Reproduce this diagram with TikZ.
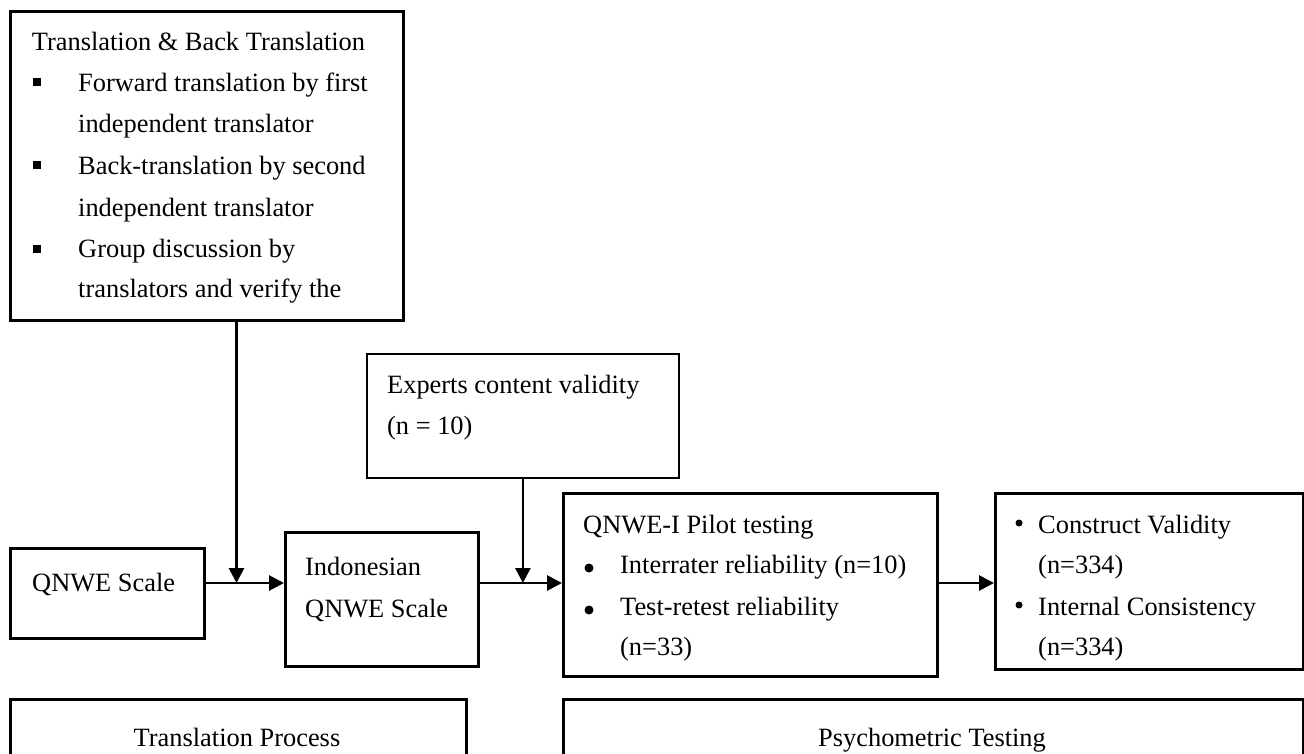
\documentclass[tikz,border=0pt]{standalone}
\usepackage{fontspec}
\setmainfont{Liberation Serif}
\usetikzlibrary{arrows.meta}
\begin{document}
\begin{tikzpicture}[x=1pt,y=-1pt,
  box/.style={draw, line width=2.8pt, inner sep=0pt, anchor=north west},
  txt/.style={anchor=base west, inner sep=0pt, font=\fontsize{26.4}{32}\selectfont},
  ctxt/.style={anchor=base, inner sep=0pt, font=\fontsize{26.4}{32}\selectfont},
  flow/.style={line width=2.8pt, -{Triangle[length=15pt,width=15pt]}},
  sqbullet/.style={fill, rectangle, minimum size=7.5pt, inner sep=0pt},
  bigdot/.style={fill, circle, minimum size=9pt, inner sep=0pt},
  smalldot/.style={fill, circle, minimum size=7pt, inner sep=0pt}]

\useasboundingbox (0,0) rectangle (1304,754);
\clip (0,0) rectangle (1304,754);

% boxes
\node[box, minimum width=393pt, minimum height=309pt] (trans) at (9,10) {};
\node[box, minimum width=194pt, minimum height=90pt]  (scale) at (9,547) {};
\node[box, minimum width=193pt, minimum height=134pt] (indo)  at (284,531) {};
\node[box, minimum width=312pt, minimum height=124pt] (expert) at (365.5,352.5) {};
\node[box, minimum width=374pt, minimum height=183pt] (pilot) at (562,492) {};
\node[box, minimum width=308pt, minimum height=176pt] (valid) at (994,492) {};
\node[box, minimum width=456pt, minimum height=90pt]  (tproc) at (9,698) {};
\node[box, minimum width=740pt, minimum height=90pt]  (ptest) at (562,698) {};

% translation and back translation
\node[txt] (t0) at (31.7,50.7) {Translation \& Back Translation};
\node[sqbullet] (b1) at (37,82) {};
\node[txt] (t1) at (78,92) {Forward translation by first};
\node[txt] (t2) at (78,133) {independent translator};
\node[sqbullet] (b2) at (37,165) {};
\node[txt] (t3) at (78,175) {Back-translation by second};
\node[txt] (t4) at (78,217) {independent translator};
\node[sqbullet] (b3) at (37,249) {};
\node[txt] (t5) at (78,258) {Group discussion by};
\node[txt] (t6) at (78,298) {translators and verify the};

% scales
\node[txt] (s0) at (32,591) {QNWE Scale};
\node[txt] (i0) at (305,575) {Indonesian};
\node[txt] (i1) at (305,617) {QNWE Scale};

% experts
\node[txt] (e0) at (387,393) {Experts content validity};
\node[txt] (e1) at (387,434) {(n = 10)};

% pilot testing
\node[txt] (p0) at (583,533) {QNWE-I Pilot testing};
\node[bigdot] (pb1) at (589,568) {};
\node[txt] (p1) at (620,573) {Interrater reliability (n=10)};
\node[bigdot] (pb2) at (589,610) {};
\node[txt] (p2) at (620,615) {Test-retest reliability};
\node[txt] (p3) at (620,655) {(n=33)};

% validity and consistency
\node[smalldot] (vb1) at (1019,523) {};
\node[txt] (v1) at (1038,533) {Construct Validity};
\node[txt] (v2) at (1038,573) {(n=334)};
\node[smalldot] (vb2) at (1019,605) {};
\node[txt] (v3) at (1038,615) {Internal Consistency};
\node[txt] (v4) at (1038,655) {(n=334)};

% phase labels
\node[ctxt] (l1) at (237,746) {Translation Process};
\node[ctxt] (l2) at (932,746) {Psychometric Testing};

% connectors
\coordinate (lane) at (0,583);
\coordinate (j1) at (236.5,583);
\draw[flow] (scale.east |- lane) -- (indo.west |- lane);
\draw[flow] (trans.south -| j1) -- (j1);
\draw[flow] (indo.east |- lane) -- (pilot.west |- lane);
\draw[flow] (expert.south) -- (expert.south |- lane);
\draw[flow] (pilot.east |- lane) -- (valid.west |- lane);
\end{tikzpicture}
\end{document}
